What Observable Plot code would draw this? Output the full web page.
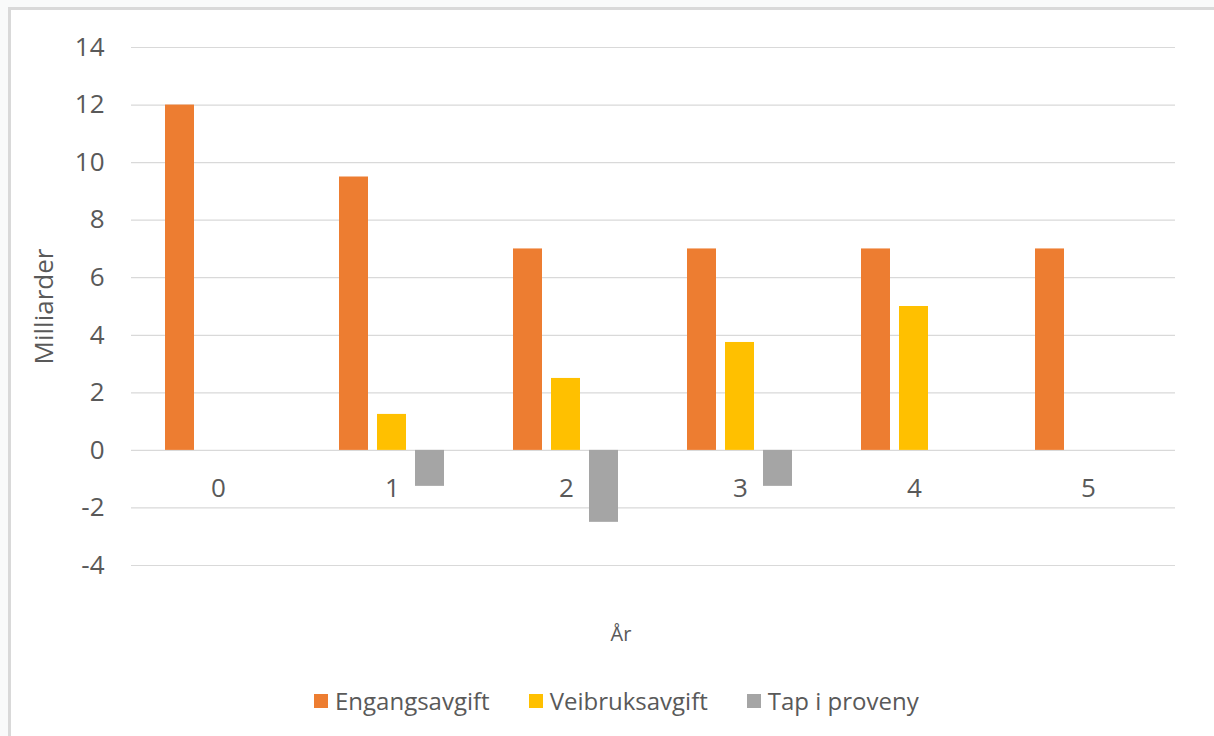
<!DOCTYPE html>
<html>
<head>
<meta charset="utf-8">
<script src="https://cdn.jsdelivr.net/npm/d3@7"></script>
<script src="https://cdn.jsdelivr.net/npm/@observablehq/plot@0.6"></script>
<style>
  html, body { margin: 0; padding: 0; background: #f9fafa; overflow: hidden; }
  body { width: 1214px; height: 736px; position: relative; font-family: "Open Sans", sans-serif; color: #595959; }
  #frame { position: absolute; left: 8px; top: 7px; width: 1400px; height: 900px; background: #fff; border: 3px solid #d9d9d9; box-sizing: border-box; }
  #chart { position: absolute; left: 0; top: 0; }
  #xtitle { position: absolute; top: 620px; left: 0; width: 1242px; text-align: center; font-size: 20px; }
  #legend { position: absolute; top: 684px; left: 314px; }
  .lg-swatches { font-size: 24px !important; font-family: "Open Sans", sans-serif !important; color: #595959 !important; }
  .lg-swatch { margin-right: 39px !important; }
  .lg-swatch > svg { margin-right: 7px !important; }
</style>
</head>
<body>
<div id="frame"></div>
<div id="chart"></div>
<div id="xtitle">År</div>
<div id="legend"></div>
<script>
// Years on the horizontal axis
const years = [0, 1, 2, 3, 4, 5];

// Series names and colours
const series = ["Engangsavgift", "Veibruksavgift", "Tap i proveny"];
const colors = ["#ED7D31", "#FFC000", "#A5A5A5"];

// Values in billions (milliarder) per year
const engangsavgift = [12, 9.5, 7, 7, 7, 7];
const veibruksavgift = [0, 1.25, 2.5, 3.75, 5, 0];
const tapIProveny = [0, -1.25, -2.5, -1.25, 0, 0];

// Y axis ticks
const yTicks = [-4, -2, 0, 2, 4, 6, 8, 10, 12, 14];

const valuesBySeries = [engangsavgift, veibruksavgift, tapIProveny];
const rows = series.flatMap((s, i) =>
  years.map((yr, j) => ({ year: yr, series: s, value: valuesBySeries[i][j] }))
);

const font = "'Open Sans', sans-serif";

const chart = Plot.plot({
  width: 1214,
  height: 640,
  marginLeft: 129,
  marginRight: 37,
  marginTop: 47,
  marginBottom: 75,
  style: { fontFamily: font, fontSize: "26px", color: "#595959", background: "transparent" },
  fx: { domain: years, padding: 0, axis: null },
  x: { domain: series, paddingInner: 0.225, paddingOuter: 0.867, axis: null },
  y: { domain: [-4, 14], ticks: yTicks },
  color: { domain: series, range: colors },
  marks: [
    Plot.gridY(yTicks, { stroke: "#d9d9d9", strokeOpacity: 1, strokeWidth: 1.2 }),
    Plot.barY(rows, { fx: "year", x: "series", y: "value", fill: "series" }),
    Plot.text(years, {
      fx: d => d,
      y: () => 0,
      text: d => String(d),
      dy: 38,
      lineAnchor: "middle",
      fill: "#595959",
      fontSize: 26
    }),
    Plot.axisY(yTicks, {
      tickSize: 0,
      tickPadding: 27,
      tickFormat: d => String(d),
      label: "Milliarder",
      labelAnchor: "center",
      labelArrow: "none",
      labelOffset: 97,
      fontSize: 26
    })
  ]
});
document.getElementById("chart").appendChild(chart);

const legend = Plot.legend({
  color: { domain: series, range: colors },
  className: "lg",
  swatchSize: 14,
  style: { fontSize: "24px", fontFamily: font, color: "#595959" }
});
document.getElementById("legend").appendChild(legend);
</script>
</body>
</html>
